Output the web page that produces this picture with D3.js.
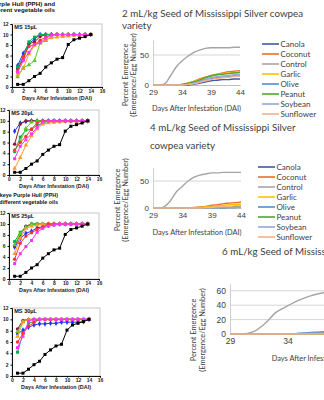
<!DOCTYPE html>
<html>
<head>
<meta charset="utf-8">
<script src="https://cdn.jsdelivr.net/npm/d3@7"></script>
<style>
  body { margin: 0; background: #fff; }
  svg { display: block; }
</style>
</head>
<body>
<script>
// ---------- data: left column (adult emergence, 0-14 DAI) ----------
const dai = [1, 2, 3, 4, 5, 6, 7, 8, 9, 10, 11, 12, 13, 14];
const control = [0.5, 0.5, 1.2, 2, 2.6, 3.8, 4.6, 5.3, 5.6, 8.1, 9, 9.3, 9.6, 10];
const smallNames = ["blue", "maroon", "green", "lime", "orange", "red", "magenta"];

const ms15 = [
  [4.1, 6.4, 8.3, 9.1, 10, 10, 10, 10, 10, 10, 10, 10, 10, 10],
  [3.5, 5.2, 8.2, 8.6, 9.6, 10, 10, 10, 10, 10, 10, 10, 10, 10],
  [3.8, 5.7, 8.6, 9.5, 10, 10, 10, 10, 10, 10, 10, 10, 10, 10],
  [1.9, 3.7, 4.2, 5, 8.4, 8.8, 9.7, 10, 10, 10, 10, 10, 10, 10],
  [2.3, 3.5, 6.3, 7.9, 8.5, 9, 9.4, 9.5, 9.6, 9.7, 9.8, 9.8, 9.9, 10],
  [3, 5.7, 7.7, 8.1, 8.9, 9.5, 10, 10, 10, 10, 10, 10, 10, 10],
  [2.8, 5, 6.6, 8.1, 8.4, 9.3, 9.9, 10, 10, 10, 10, 10, 10, 10]
];
const ms20 = [
  [8.1, 9.6, 9.9, 10, 10, 10, 10, 10, 10, 10, 10, 10, 10, 10],
  [5.7, 9.4, 10, 10, 10, 10, 10, 10, 10, 10, 10, 10, 10, 10],
  [4.3, 7, 8.3, 8.4, 9.2, 9.5, 10, 10, 10, 10, 10, 10, 10, 10],
  [4.5, 6.2, 8.6, 9.8, 10, 10, 10, 10, 10, 10, 10, 10, 10, 10],
  [1.2, 3.2, 5.5, 7.2, 8.5, 9.4, 9.6, 9.7, 9.8, 9.9, 10, 10, 10, 10],
  [4.6, 6, 7.1, 8.5, 9.6, 10, 10, 10, 10, 10, 10, 10, 10, 10],
  [3, 5.3, 6.5, 7.6, 8.8, 9.8, 10, 10, 10, 10, 10, 10, 10, 10]
];
const ms25 = [
  [5.8, 7.3, 8.3, 8.7, 9.3, 9.5, 9.8, 9.9, 10, 10, 10, 10, 10, 10],
  [6, 8, 9.6, 10, 10, 10, 10, 10, 10, 10, 10, 10, 10, 10],
  [6.8, 8.5, 9.5, 10, 10, 10, 10, 10, 10, 10, 10, 10, 10, 10],
  [6.2, 8.2, 9.3, 10, 10, 10, 10, 10, 10, 10, 10, 10, 10, 10],
  [4.6, 7.4, 9.2, 9.6, 9.8, 10, 10, 10, 10, 10, 10, 10, 10, 10],
  [3.6, 6.5, 7.8, 8.4, 9, 9.4, 10, 10, 10, 10, 10, 10, 10, 10],
  [2.8, 4.6, 5.9, 7, 8.5, 9.2, 9.6, 9.8, 10, 10, 10, 10, 10, 10]
];
const ms30 = [
  [7.4, 8.1, 8.6, 9, 9.2, 9.2, 9.3, 9.3, 9.5, 9.5, 9.5, 9.5, 9.6, 10],
  [8.3, 9.8, 10, 10, 10, 10, 10, 10, 10, 10, 10, 10, 10, 10],
  [4.2, 7.5, 9.3, 9.6, 10, 10, 10, 10, 10, 10, 10, 10, 10, 10],
  [7.8, 9.6, 10, 10, 10, 10, 10, 10, 10, 10, 10, 10, 10, 10],
  [7, 9.5, 10, 10, 10, 10, 10, 10, 10, 10, 10, 10, 10, 10],
  [6, 7.5, 8.8, 9.4, 10, 10, 10, 10, 10, 10, 10, 10, 10, 10],
  [5, 7, 9.7, 10, 10, 10, 10, 10, 10, 10, 10, 10, 10, 10]
];

// ---------- data: right column (percent emergence, 29-44 DAI) ----------
const days = [29, 30, 31, 32, 33, 34, 35, 36, 37, 38, 39, 40, 41, 42, 43, 44];
const oils = ["Canola", "Coconut", "Control", "Garlic", "Olive", "Peanut", "Soybean", "Sunflower"];

const dose2 = [
  [0, 0, 0, 0, 0, 0, 0, 1, 3, 5, 7, 8, 9, 9, 10, 10],
  [0, 0, 0, 0, 0, 1, 3, 6, 10, 13, 16, 18, 20, 22, 23, 24],
  [0, 0, 2, 15, 30, 40, 48, 54, 58, 61, 62, 62, 62, 62, 63, 63],
  [0, 0, 0, 0, 0, 1, 3, 6, 9, 12, 15, 17, 19, 20, 21, 22],
  [0, 0, 0, 0, 0, 0, 1, 3, 6, 9, 11, 12, 13, 14, 15, 15],
  [0, 0, 0, 0, 0, 1, 3, 5, 8, 12, 15, 17, 18, 19, 20, 21],
  [0, 0, 0, 0, 0, 0, 1, 3, 6, 9, 12, 14, 15, 16, 17, 18],
  [0, 0, 0, 0, 0, 0, 1, 2, 4, 7, 9, 11, 12, 13, 14, 15]
];
const dose4 = [
  [0, 0, 0, 0, 0, 0, 0, 0, 0, 0, 1, 1, 2, 2, 3, 3],
  [0, 0, 0, 0, 0, 0, 0, 1, 2, 3, 5, 6, 8, 9, 10, 11],
  [0, 0, 3, 14, 30, 40, 50, 57, 61, 63, 65, 65, 66, 66, 66, 66],
  [0, 0, 0, 0, 0, 0, 0, 0, 1, 2, 3, 4, 5, 6, 7, 7],
  [0, 0, 0, 0, 0, 0, 0, 0, 0, 0, 0, 0, 0, 1, 1, 2],
  [0, 0, 0, 0, 0, 0, 0, 0, 0, 0, 0, 1, 1, 2, 2, 3],
  [0, 0, 0, 0, 0, 0, 0, 0, 0, 0, 0, 0, 1, 1, 1, 2],
  [0, 0, 0, 0, 0, 0, 0, 0, 0, 1, 1, 2, 3, 3, 4, 4]
];
const dose6 = [
  [0, 0, 0, 0, 0, 0, 0, 1, 2, 3, 3, 4, 4, 5, 5, 5],
  [0, 0, 0, 0, 0, 0, 0, 0, 1, 1, 2, 2, 3, 3, 3, 4],
  [0, 0, 3, 14, 30, 39, 47, 53, 57, 60, 61, 62, 62, 62, 62, 62],
  [0, 0, 0, 0, 0, 0, 0, 0, 1, 1, 1, 2, 2, 2, 3, 3],
  [0, 0, 0, 0, 0, 0, 1, 2, 3, 4, 4, 5, 5, 6, 6, 6],
  [0, 0, 0, 0, 0, 0, 0, 0, 0, 1, 1, 1, 2, 2, 2, 2],
  [0, 0, 0, 0, 0, 0, 0, 1, 1, 2, 2, 3, 3, 3, 4, 4],
  [0, 0, 0, 0, 0, 0, 0, 0, 0, 1, 1, 1, 1, 2, 2, 2]
];

// ---------- styles ----------
const smallColor = {
  blue: "#2233ff", maroon: "#8b1a3a", green: "#00b050", lime: "#55cc22",
  orange: "#ff9933", red: "#ff3333", magenta: "#ff33ff"
};
const smallShape = {
  blue: d3.symbolDiamond, maroon: d3.symbolCircle, green: d3.symbolSquare, lime: d3.symbolTriangle,
  orange: d3.symbolTriangle, red: d3.symbolCircle, magenta: d3.symbolSquare
};
const oilColor = {
  Canola: "#3a5aa8", Coconut: "#e8702a", Control: "#a5a5a5", Garlic: "#ffc000",
  Olive: "#4f8fd0", Peanut: "#4ea72e", Soybean: "#8fa9d8", Sunflower: "#f4b183"
};

const svg = d3.select("body").append("svg")
  .attr("width", 324)
  .attr("height", 400)
  .style("background", "#fff");

// ---------- left column ----------
const smallPanels = [
  { label: "MS 15µL", data: ms15, x0: 12, x1: 102, yTop: 24, yBot: 87 },
  { label: "MS 20µL", data: ms20, x0: 9, x1: 99, yTop: 110, yBot: 175 },
  { label: "MS 25µL", data: ms25, x0: 9, x1: 99, yTop: 213, yBot: 279 },
  { label: "MS 30µL", data: ms30, x0: 12, x1: 100, yTop: 308, yBot: 376 }
];

function drawSmall(p) {
  const g = svg.append("g").style("font-family", "Liberation Sans, Arial, sans-serif");
  const x = d3.scaleLinear().domain([0, 16]).range([p.x0, p.x1]);
  const y = d3.scaleLinear().domain([0, 12]).range([p.yBot, p.yTop]);

  g.append("rect")
    .attr("x", x(0)).attr("y", y(12))
    .attr("width", x(16) - x(0)).attr("height", y(0) - y(12))
    .attr("fill", "none").attr("stroke", "#b8b8b8").attr("stroke-width", 0.8);

  const yAxis = g.append("g").attr("transform", `translate(${x(0)},0)`)
    .call(d3.axisLeft(y).tickValues([0, 2, 4, 6, 8, 10, 12]).tickSize(1.5).tickPadding(2));
  const xAxis = g.append("g").attr("transform", `translate(0,${y(0)})`)
    .call(d3.axisBottom(x).tickValues([0, 2, 4, 6, 8, 10, 12, 14, 16]).tickSize(1.5).tickPadding(1));
  [yAxis, xAxis].forEach(a => {
    a.selectAll("text").style("font-size", "5px").style("font-weight", "bold").attr("fill", "#222");
    a.select(".domain").attr("stroke", "#111");
  });

  g.append("text")
    .attr("x", x(16) / 2 + x(0) / 2).attr("y", y(0) + 12.5)
    .attr("text-anchor", "middle")
    .style("font-size", "5.4px").style("font-weight", "bold").attr("fill", "#222")
    .text("Days After Infestation (DAI)");

  g.append("text")
    .attr("x", x(0.4)).attr("y", y(11.1))
    .style("font-size", "5.6px").style("font-weight", "bold").attr("fill", "#111")
    .text(p.label);

  const line = d3.line().x((d, i) => x(dai[i])).y(d => y(d));

  const all = p.data.map((vals, k) => ({ name: smallNames[k], vals }));
  all.push({ name: "control", vals: control });

  all.forEach(s => {
    const c = s.name === "control" ? "#000" : smallColor[s.name];
    const shape = s.name === "control" ? d3.symbolSquare : smallShape[s.name];
    g.append("path").datum(s.vals)
      .attr("d", line).attr("fill", "none").attr("stroke", c).attr("stroke-width", 1);
    g.selectAll(null).data(s.vals).enter().append("path")
      .attr("transform", (d, i) => `translate(${x(dai[i])},${y(d)})`)
      .attr("d", d3.symbol().type(shape).size(9))
      .attr("fill", c);
  });
}
smallPanels.forEach(drawSmall);

// clipped titles of the left figures
const leftTitles = [
  { lines: ["Blackeye Purple Hull (PPH) and", "different vegetable oils"], xEnd: [55, 55], y: [5.5, 11.5], size: 6.2 },
  { lines: ["Blackeye Purple Hull (PPH)", "from different vegetable oils"], xEnd: [58, 58], y: [197, 203.5], size: 5.4 }
];
leftTitles.forEach(t => {
  t.lines.forEach((s, i) => {
    svg.append("text")
      .attr("x", t.xEnd[i]).attr("y", t.y[i])
      .attr("text-anchor", "end")
      .style("font-family", "Liberation Sans, Arial, sans-serif")
      .style("font-size", t.size + "px").style("font-weight", "bold").attr("fill", "#111")
      .text(s);
  });
});

// ---------- right column ----------
const bigCharts = [
  { data: dose2, title: ["2 mL/kg Seed of Mississippi Silver cowpea", "variety"], tx: 122, ty: [16.5, 28.5], tSize: 9.8,
    x0: 153, x1: 240, y0: 85, yMax: 75, yPerUnit: 0.6, ticks: [0, 50], tickSize: 8,
    yt: [125, 133], ytY: 75, legendX: 262, legendY: 44, xTitleY: 111 },
  { data: dose4, title: ["4 mL/kg Seed of Mississippi Silver", "cowpea variety"], tx: 150, ty: [131, 149], tSize: 9.8,
    x0: 153, x1: 241, y0: 208, yMax: 75, yPerUnit: 0.54, ticks: [0, 50], tickSize: 8,
    yt: [117, 125], ytY: 200, legendX: 258, legendY: 167, xTitleY: 235 },
  { data: dose6, title: ["6 mL/kg Seed of Mississippi Silver cowpea variety"], tx: 222, ty: [254.5], tSize: 9.8,
    x0: 230, x1: 402.5, y0: 334, yMax: 70, yPerUnit: 0.72, ticks: [0, 20, 40, 60], tickSize: 8.5,
    yt: [193, 202], ytY: 330, legendX: 420, legendY: 290, xTitleY: 361 }
];

function drawBig(c) {
  const g = svg.append("g").style("font-family", "Lato, 'Open Sans', sans-serif");
  const x = d3.scaleLinear().domain([29, 44]).range([c.x0, c.x1]);
  const y = d3.scaleLinear().domain([0, c.yMax]).range([c.y0, c.y0 - c.yMax * c.yPerUnit]);

  c.title.forEach((s, i) => {
    g.append("text").attr("x", c.tx).attr("y", c.ty[i])
      .style("font-size", c.tSize + "px").attr("fill", "#404040").text(s);
  });

  // gridlines
  g.selectAll(null).data(c.ticks.filter(t => t > 0)).enter().append("line")
    .attr("x1", x(29)).attr("x2", x(44))
    .attr("y1", d => y(d)).attr("y2", d => y(d))
    .attr("stroke", "#d0d0d0").attr("stroke-width", 0.9);

  const yAxis = g.append("g").attr("transform", `translate(${x(29)},0)`)
    .call(d3.axisLeft(y).tickValues(c.ticks).tickSize(0).tickPadding(4));
  yAxis.select(".domain").attr("stroke", "#d0d0d0");
  yAxis.selectAll("text").style("font-size", c.tickSize + "px").attr("fill", "#404040");

  const xAxis = g.append("g").attr("transform", `translate(0,${y(0)})`)
    .call(d3.axisBottom(x).tickValues([29, 34, 39, 44]).tickSize(0).tickPadding(4));
  xAxis.select(".domain").attr("stroke", "#bfbfbf");
  xAxis.selectAll("text").style("font-size", c.tickSize + "px").attr("fill", "#404040");

  g.append("text")
    .attr("x", (x(29) + x(44)) / 2).attr("y", c.xTitleY)
    .attr("text-anchor", "middle")
    .style("font-size", "7.4px").attr("fill", "#404040")
    .text("Days After Infestation (DAI)");

  ["Percent Emergence", "(Emergence/Egg Number)"].forEach((s, i) => {
    g.append("text")
      .attr("transform", `translate(${c.yt[i] + 2.5},${c.ytY}) rotate(-90)`)
      .attr("text-anchor", "middle")
      .style("font-size", "7.4px").attr("fill", "#404040")
      .text(s);
  });

  const line = d3.line().x((d, i) => x(days[i])).y(d => y(d)).curve(d3.curveMonotoneX);
  c.data.forEach((vals, k) => {
    g.append("path").datum(vals)
      .attr("d", line).attr("fill", "none")
      .attr("stroke", oilColor[oils[k]]).attr("stroke-width", 1.4);
  });

  // legend
  oils.forEach((o, k) => {
    const ly = c.legendY + k * 10;
    g.append("line")
      .attr("x1", c.legendX).attr("x2", c.legendX + 17)
      .attr("y1", ly).attr("y2", ly)
      .attr("stroke", oilColor[o]).attr("stroke-width", 1.6);
    g.append("text")
      .attr("x", c.legendX + 18.5).attr("y", ly + 2.8)
      .style("font-size", "8px").attr("fill", "#404040")
      .text(o);
  });
}
bigCharts.forEach(drawBig);
</script>
</body>
</html>
